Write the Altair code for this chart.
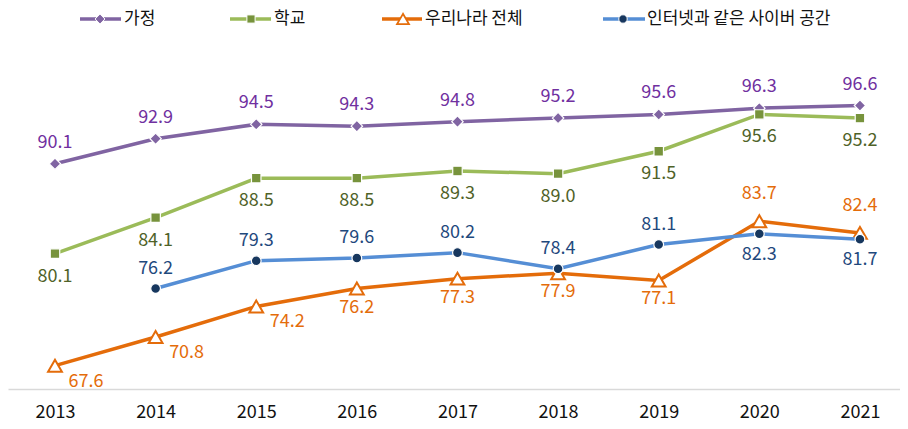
import altair as alt
import pandas as pd

# ---- data ----
years = [2013, 2014, 2015, 2016, 2017, 2018, 2019, 2020, 2021]
series_names = ["가정", "학교", "우리나라 전체", "인터넷과 같은 사이버 공간"]
home = [90.1, 92.9, 94.5, 94.3, 94.8, 95.2, 95.6, 96.3, 96.6]
school = [80.1, 84.1, 88.5, 88.5, 89.3, 89.0, 91.5, 95.6, 95.2]
nation = [67.6, 70.8, 74.2, 76.2, 77.3, 77.9, 77.1, 83.7, 82.4]
cyber = [None, 76.2, 79.3, 79.6, 80.2, 78.4, 81.1, 82.3, 81.7]

# label placement codes (style)
placements = {
    "가정": ["above"] * 9,
    "학교": ["below"] * 9,
    "우리나라 전체": ["right", "right", "right", "below", "below", "below", "below", "above", "above"],
    "인터넷과 같은 사이버 공간": [None, "above", "above", "above", "above", "above", "above", "below", "below"],
}

values = dict(zip(series_names, [home, school, nation, cyber]))
rows = []
for s in series_names:
    for y, v, p in zip(years, values[s], placements[s]):
        if v is not None:
            rows.append({"year": y, "series": s, "value": v, "pos": p, "label": f"{v:.1f}"})
df = pd.DataFrame(rows)

FONT = "Noto Sans CJK KR"
style = {
    "가정": dict(line="#8064A2", mfill="#8064A2", mstroke="white", shape="diamond", size=130, label="#7030A0"),
    "학교": dict(line="#9BBB59", mfill="#77933C", mstroke="white", shape="square", size=90, label="#4F6228"),
    "우리나라 전체": dict(line="#E46C0A", mfill="white", mstroke="#E46C0A", shape="triangle-up", size=190, label="#E46C0A"),
    "인터넷과 같은 사이버 공간": dict(line="#558ED5", mfill="#17375E", mstroke="white", shape="circle", size=95, label="#1F497D"),
}
offsets = {
    ("가정", "above"): (0, -21),
    ("학교", "below"): (0, 23),
    ("우리나라 전체", "right"): (31, 16),
    ("우리나라 전체", "below"): (0, 19),
    ("우리나라 전체", "above"): (0, -27),
    ("인터넷과 같은 사이버 공간", "above"): (0, -20),
    ("인터넷과 같은 사이버 공간", "below"): (0, 21),
}

x_scale = alt.Scale(domain=[2012.533, 2021.398], nice=False, zero=False)
y_scale = alt.Scale(domain=[65, 100], nice=False, zero=False)

base = alt.Chart(df)
X = alt.X("year:Q", scale=x_scale,
          axis=alt.Axis(values=years, format="d", title=None, grid=False, ticks=False,
                        labelFontSize=18, labelFont=FONT, labelColor="#111111",
                        labelFontWeight="normal",
                        domainColor="#D9D9D9", domainWidth=1.5, labelPadding=14,
                        labelFlush=False))
Xp = alt.X("year:Q", scale=x_scale)
Y = alt.Y("value:Q", scale=y_scale, axis=None)

layers = []
first = True
for s in series_names:
    st = style[s]
    sub = base.transform_filter(alt.datum.series == s)
    layers.append(sub.mark_line(color=st["line"], strokeWidth=3.5).encode(x=X if first else Xp, y=Y))
    first = False
    layers.append(sub.mark_point(shape=st["shape"], size=st["size"], filled=True, fill=st["mfill"],
                                 stroke=st["mstroke"], strokeWidth=2 if s == "우리나라 전체" else 1.2,
                                 opacity=1).encode(x=Xp, y=Y))

for (s, p), (dx, dy) in offsets.items():
    st = style[s]
    sub = base.transform_filter((alt.datum.series == s) & (alt.datum.pos == p))
    layers.append(sub.mark_text(font=FONT, fontSize=18, color=st["label"], dx=dx, dy=dy,
                                baseline="middle", align="center").encode(
        x=Xp, y=Y, text="label:N"))

# ---- manual legend (page x coords; converted to plot coords below) ----
legend_items = [
    ("가정", 80, 121, 100, 124),
    ("학교", 230, 271, 251, 274),
    ("우리나라 전체", 382, 422, 403, 425),
    ("인터넷과 같은 사이버 공간", 603, 645, 623, 647),
]
TOP = 67
ly = 19 - 8 - TOP
leg_df = pd.DataFrame({"series": series_names})
for name, x1, x2, xm, xt in legend_items:
    st = style[name]
    lsub = alt.Chart(leg_df).transform_filter(alt.datum.series == name)
    layers.append(lsub.mark_rule(color=st["line"], strokeWidth=3.5).encode(
        x=alt.value(x1 - 8), x2=alt.value(x2 - 8), y=alt.value(ly)))
    layers.append(lsub.mark_point(shape=st["shape"], size=st["size"] * 0.75, filled=True, fill=st["mfill"],
                                  stroke=st["mstroke"], strokeWidth=1.8 if name == "우리나라 전체" else 1,
                                  opacity=1).encode(
        x=alt.value(xm - 8), y=alt.value(ly)))
    layers.append(lsub.mark_text(font=FONT, fontSize=17, color="#111111", align="left",
                                 baseline="middle").encode(
        x=alt.value(xt - 8), y=alt.value(ly), text="series:N"))

chart = alt.layer(*layers).properties(
    width=892, height=314,
    autosize=alt.AutoSizeParams(type="none"),
    padding={"left": 0, "right": 0, "top": TOP, "bottom": 32},
).configure(background="white").configure_view(stroke=None)

chart.save("out.html", embed_options={"renderer": "svg", "actions": False})
